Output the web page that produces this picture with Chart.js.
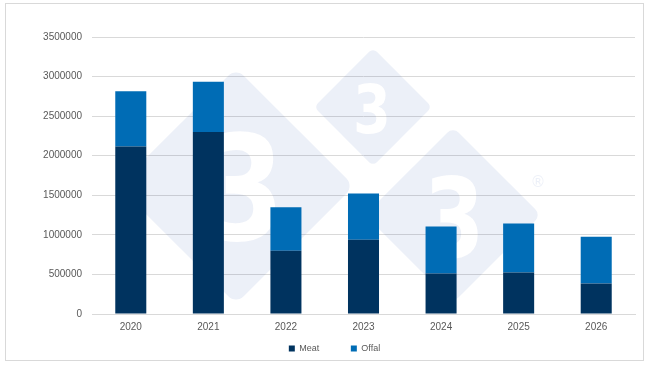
<!DOCTYPE html>
<html>
<head>
<meta charset="utf-8">
<script src="https://cdn.jsdelivr.net/npm/chart.js@4/dist/chart.umd.min.js"></script>
<style>
  html, body { margin: 0; padding: 0; background: #fff; }
  #wrap { position: absolute; left: 0; top: 0; width: 650px; height: 366px; }
  #frame { position: absolute; left: 5px; top: 3px; width: 637px; height: 356px; border: 1px solid #d9d9d9; pointer-events: none; }
</style>
</head>
<body>
<div id="wrap"><canvas id="c" width="650" height="366"></canvas></div>
<div id="frame"></div>
<script>
const years = ['2020', '2021', '2022', '2023', '2024', '2025', '2026'];
const meat  = [2118000, 2299000, 799000, 938000, 511000, 524000, 385000];
const offal = [697000, 634000, 549000, 584000, 596000, 621000, 591000];
const yTicks = [0, 500000, 1000000, 1500000, 2000000, 2500000, 3000000, 3500000];
const legendNames = ['Meat', 'Offal'];

const watermark = {
  id: 'watermark',
  beforeDatasetsDraw(chart) {
    const W = chart.width, H = chart.height;
    const off = document.createElement('canvas');
    off.width = W; off.height = H;
    const o = off.getContext('2d');
    const diamonds = [
      { cx: 236, cy: 186, r: 118 },
      { cx: 373, cy: 107, r: 59 },
      { cx: 453, cy: 215, r: 88 }
    ];
    o.fillStyle = '#000';
    diamonds.forEach(d => {
      o.save();
      o.translate(d.cx, d.cy);
      o.rotate(Math.PI / 4);
      const s = d.r / Math.SQRT2;
      o.beginPath();
      o.roundRect(-s, -s, 2 * s, 2 * s, s * 0.13);
      o.fill();
      o.restore();
    });
    o.globalCompositeOperation = 'destination-out';
    o.textAlign = 'center';
    o.textBaseline = 'alphabetic';
    const threes = [
      { x: 244, y: 240, size: 146 },
      { x: 372, y: 133, size: 68 },
      { x: 454, y: 257, size: 110 }
    ];
    threes.forEach(t => {
      o.save();
      o.translate(t.x, t.y);
      o.scale(0.8, 1);
      o.font = 'bold ' + t.size + 'px "DejaVu Sans"';
      o.fillText('3', 0, 0);
      o.restore();
    });
    o.globalCompositeOperation = 'source-over';
    o.font = '15px "DejaVu Sans"';
    o.textBaseline = 'middle';
    o.fillText('®', 538, 183);

    const ctx = chart.ctx;
    ctx.save();
    const tint = document.createElement('canvas');
    tint.width = W; tint.height = H;
    const t = tint.getContext('2d');
    t.drawImage(off, 0, 0);
    t.globalCompositeOperation = 'source-in';
    t.fillStyle = 'rgb(40,80,170)';
    t.fillRect(0, 0, W, H);
    ctx.globalAlpha = 0.085;
    ctx.drawImage(tint, 0, 0);
    ctx.restore();
  }
};

new Chart(document.getElementById('c'), {
  type: 'bar',
  data: {
    labels: years,
    datasets: [
      { label: legendNames[0], data: meat, backgroundColor: '#00335f', barPercentage: 0.4, categoryPercentage: 1 },
      { label: legendNames[1], data: offal, backgroundColor: '#006cb5', barPercentage: 0.4, categoryPercentage: 1 }
    ]
  },
  options: {
    responsive: false,
    animation: false,
    layout: { padding: { top: 37, right: 15, bottom: 3, left: 34 } },
    scales: {
      x: {
        stacked: true,
        grid: { display: false, drawTicks: false },
        border: { color: '#d9d9d9' },
        ticks: { color: '#595959', font: { family: 'Liberation Sans', size: 10 }, padding: 7 }
      },
      y: {
        stacked: true,
        min: 0,
        max: 3500000,
        afterBuildTicks: s => { s.ticks = yTicks.map(v => ({ value: v })); },
        afterFit: s => { s.width = 58; },
        grid: { color: '#d9d9d9', drawTicks: false },
        border: { display: false },
        ticks: { color: '#595959', font: { family: 'Liberation Sans', size: 10 }, padding: 10, callback: v => String(v) }
      }
    },
    plugins: {
      legend: {
        position: 'bottom',
        labels: {
          boxWidth: 6, boxHeight: 6, padding: 4, color: '#595959',
          font: { family: 'Liberation Sans', size: 9 },
          generateLabels: chart => {
            const items = Chart.defaults.plugins.legend.labels.generateLabels(chart);
            items[0].text = items[0].text + '\u00a0'.repeat(11);
            return items;
          }
        }
      },
      tooltip: { enabled: false }
    }
  },
  plugins: [watermark]
});
</script>
</body>
</html>
